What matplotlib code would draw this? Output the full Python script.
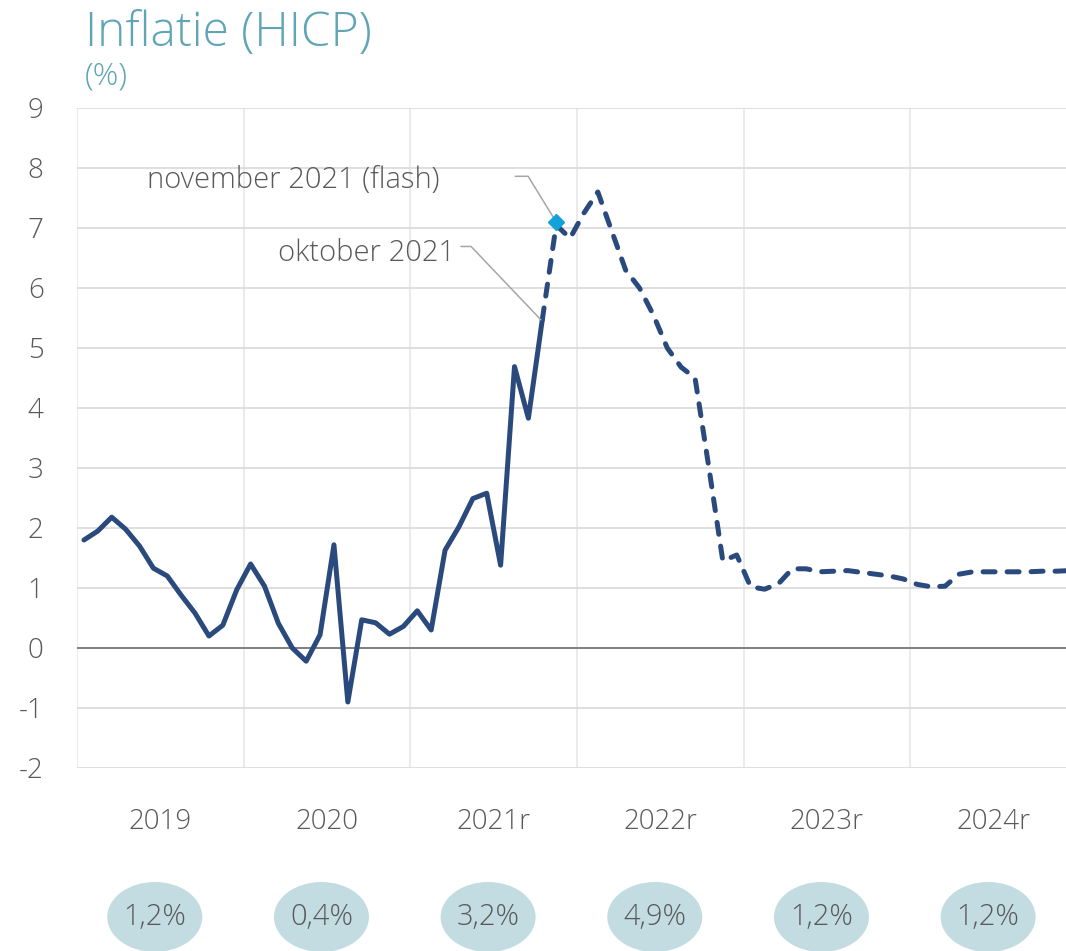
import matplotlib
matplotlib.use("Agg")
import matplotlib.pyplot as plt
import matplotlib.transforms as mtransforms
from matplotlib.patches import Ellipse
import numpy as np

plt.rcParams['font.family'] = ['Open Sans', 'DejaVu Sans']

# monthly HICP inflation (%), jan 2019 - dec 2024
realised = [1.8, 1.95, 2.18, 1.98, 1.7, 1.33, 1.2, 0.88, 0.58, 0.2, 0.38, 0.97,
            1.4, 1.03, 0.41, 0.0, -0.22, 0.22, 1.72, -0.9, 0.47, 0.42, 0.23, 0.36,
            0.62, 0.3, 1.63, 2.02, 2.49, 2.58, 1.38, 4.69, 3.83, 5.47]
# projection starts at oktober 2021
projection = [5.47, 7.05, 6.83,
              7.25, 7.6, 6.95, 6.3, 6.0, 5.55, 5.0, 4.68, 4.5, 3.0, 1.45, 1.55,
              1.02, 0.98, 1.07, 1.32, 1.32, 1.27, 1.28, 1.29, 1.26, 1.23, 1.2, 1.15,
              1.06, 1.02, 1.03, 1.23, 1.27, 1.27, 1.27, 1.27, 1.27, 1.28, 1.28, 1.29]
flash_month = 34       # november 2021
flash_value = 7.1

years = ['2019', '2020', '2021r', '2022r', '2023r', '2024r']
yearly_avg = ['1,2%', '0,4%', '3,2%', '4,9%', '1,2%', '1,2%']

dark_blue = '#2a4a7e'
grey_txt = '#595959'
teal = '#5fa5b5'

fig = plt.figure(figsize=(10.66, 9.51), dpi=100)
ax = fig.add_axes([77/1066, 183/951, 1000/1066, 660/951])

x_real = np.arange(len(realised)) + 0.5
x_proj = np.arange(len(projection)) + len(realised) - 1 + 0.5

ax.plot(x_real, realised, color=dark_blue, lw=3.6, solid_joinstyle='round',
        solid_capstyle='round', zorder=3)
ax.plot(x_proj, projection, color=dark_blue, lw=3.6, ls=(0, (2.4, 2.4)),
        dash_capstyle='round', dash_joinstyle='round', zorder=3)
ax.plot([flash_month + 0.5], [flash_value], marker='D', ms=8.5, color='#13a0db',
        mec='#13a0db', zorder=4)

ax.set_xlim(0, 72)
ax.set_ylim(-2, 9)
ax.set_yticks(np.arange(-2, 10))
ax.set_yticklabels([str(v) for v in range(-2, 10)])
ax.set_xticks(np.arange(6, 72, 12))
ax.set_xticklabels(years)
ax.set_xticks(np.arange(0, 73, 12), minor=True)
ax.tick_params(axis='both', which='both', length=0, labelsize=20,
               labelcolor=grey_txt)
ax.tick_params(axis='y', pad=24)
ax.tick_params(axis='x', pad=29)
for lab in ax.get_xticklabels() + ax.get_yticklabels():
    lab.set_fontweight('light')

ax.grid(axis='y', which='major', color='#d9d9d9', lw=1.2)
ax.grid(axis='x', which='minor', color='#e8e8e8', lw=1.2)
ax.axhline(0, color='#808080', lw=1.4, zorder=2)
for s in ax.spines.values():
    s.set_visible(False)
ax.set_axisbelow(True)

# annotations
leader = '#a6a6a6'
ax.text(26.1, 7.8, 'november 2021 (flash)', ha='right', va='center',
        fontsize=21, color=grey_txt, fontweight='light')
ax.annotate('', xy=(flash_month + 0.5, flash_value), xytext=(-29.5, 32.9),
            textcoords='offset points',
            arrowprops=dict(arrowstyle='-', color=leader, lw=1.1, shrinkA=0, shrinkB=0,
                            connectionstyle='angle,angleA=0,angleB=121.5,rad=0'))
ax.text(27.2, 6.58, 'oktober 2021', ha='right', va='center',
        fontsize=21, color=grey_txt, fontweight='light')
ax.annotate('', xy=(33.4, realised[-1]), xytext=(-57.6, 52.8),
            textcoords='offset points',
            arrowprops=dict(arrowstyle='-', color=leader, lw=1.1, shrinkA=0, shrinkB=0,
                            connectionstyle='angle,angleA=0,angleB=133.6,rad=0'))

# yearly averages in ellipses
trans = mtransforms.blended_transform_factory(ax.transData, fig.transFigure)
for k, txt in enumerate(yearly_avg):
    cx = 12 * k + 5.6
    e = Ellipse((cx, 1 - 917/951), width=6.84, height=70/951, transform=trans,
                facecolor='#c3dce2', edgecolor='none', clip_on=False)
    fig.add_artist(e)
    fig.text(0, 0, txt, transform=trans, fontsize=21, color=grey_txt,
             fontweight='light', ha='center', va='center').set_position((cx, 1 - 917/951))

fig.text(85/1066, 1 - 46/951, 'Inflatie (HICP)', fontsize=34.5, color=teal,
         fontweight='light', ha='left', va='baseline')
fig.text(85/1066, 1 - 84/951, '(%)', fontsize=23, color=teal,
         fontweight='light', ha='left', va='baseline')

fig.savefig('out.png', dpi=100)
